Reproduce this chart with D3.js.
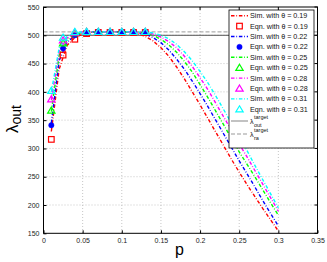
<!DOCTYPE html>
<html><head><meta charset="utf-8">
<script src="https://cdn.jsdelivr.net/npm/d3@7"></script>
<style>
html,body{margin:0;padding:0;background:#fff;}
svg{display:block;font-family:"Liberation Sans",Arial,Helvetica,sans-serif;}
</style></head>
<body>
<svg id="c" width="327" height="262"></svg>
<script>
const xTicks = [0,0.05,0.1,0.15,0.2,0.25,0.3,0.35];
const xTickLabels = ["0","0.05","0.1","0.15","0.2","0.25","0.3","0.35"];
const yTicks = [150,200,250,300,350,400,450,500,550];
const thetas = ["0.19","0.22","0.25","0.28","0.31"];
const colors = ["#ff0000","#0000ff","#00ff00","#ff00ff","#00ffff"];

const pSim = [0.01,0.02,0.03,0.04,0.05,0.06,0.07,0.08,0.09,0.10,0.11,0.12,0.13,0.14,0.15,0.16,0.17,0.18,0.19,0.20,0.21,0.22,0.23,0.24,0.25,0.26,0.27,0.28,0.29,0.30];
const sim019 = [330,440,482,496,502,505,506,506,506,506,505,503,498,490,478,463,444,423,400,377,353,329,305,281,258,236,215,194,174,154];
const sim022 = [345,455,488,499,504,506,506,506,506,506,506,505,502,496,487,474,458,440,419,397,374,350,326,302,278,255,232,208,185,163];
const sim025 = [365,465,492,502,505,506,506,506,506,506,506,506,504,500,493,483,470,454,435,413,390,366,342,318,294,272,250,227,204,182];
const sim028 = [385,472,495,504,506,506,506,506,506,506,506,506,505,502,497,489,478,463,445,425,404,380,356,332,308,285,261,237,213,189];
const sim031 = [400,478,498,505,506,506,506,506,506,506,506,506,506,504,500,494,484,471,455,436,416,393,369,345,320,296,270,245,220,195];

const pEqn = [0.01,0.025,0.04,0.055,0.07,0.085,0.1,0.115,0.13];
const eqn019 = [316,465,493,503,505,505,505,505,505];
const eqn022 = [341,477,500,505,506,506,506,506,506];
const eqn025 = [367,486,504,506,506,506,506,506,506];
const eqn028 = [387,491,505,506,506,506,506,506,506];
const eqn031 = [402,496,506,506,506,506,506,506,506];

const lambdaOutTarget = 500;
const lambdaRaTarget = 506;

const sims = [sim019,sim022,sim025,sim028,sim031];
const eqns = [eqn019,eqn022,eqn025,eqn028,eqn031];
const markerTypes = ["square","circle","triangle","triangle","triangle"];

const svg = d3.select("#c");
const L = 43.5, R = 317.5, T = 7, B = 233.3;
const x = d3.scaleLinear().domain([0,0.35]).range([L,R]);
const y = d3.scaleLinear().domain([150,550]).range([B,T]);

// grid
const grid = svg.append("g");
xTicks.slice(1,-1).forEach(t=>{
  grid.append("line").attr("x1",x(t)).attr("x2",x(t)).attr("y1",T).attr("y2",B)
   .attr("stroke","#b8b8b8").attr("stroke-width",0.8).attr("stroke-dasharray","1,2");
});
yTicks.slice(1,-1).forEach(t=>{
  grid.append("line").attr("x1",L).attr("x2",R).attr("y1",y(t)).attr("y2",y(t))
   .attr("stroke","#b8b8b8").attr("stroke-width",0.8).attr("stroke-dasharray","1,2");
});

// target lines
svg.append("line").attr("x1",L).attr("x2",R).attr("y1",y(lambdaOutTarget)).attr("y2",y(lambdaOutTarget))
  .attr("stroke","#555").attr("stroke-width",1);
svg.append("line").attr("x1",L).attr("x2",R).attr("y1",y(lambdaRaTarget)).attr("y2",y(lambdaRaTarget))
  .attr("stroke","#999").attr("stroke-width",1).attr("stroke-dasharray","4,2");

// sim lines
const line = d3.line().x((d,i)=>x(pSim[i])).y(d=>y(d));
sims.forEach((s,k)=>{
  svg.append("path").datum(s).attr("d",line).attr("fill","none")
    .attr("stroke",colors[k]).attr("stroke-width",1.4)
    .attr("stroke-dasharray","3.5,1.8,0.8,1.8");
});

function drawMarker(g, type, cx, cy, color, s){
  if(type==="square"){
    g.append("rect").attr("x",cx-s).attr("y",cy-s).attr("width",2*s).attr("height",2*s)
      .attr("fill","none").attr("stroke",color).attr("stroke-width",1.2);
  } else if(type==="circle"){
    g.append("circle").attr("cx",cx).attr("cy",cy).attr("r",s*0.95).attr("fill",color).attr("stroke",color).attr("stroke-width",0.5);
  } else {
    const h = s*1.25;
    g.append("path").attr("d",`M${cx},${cy-h}L${cx+h*1.05},${cy+h*0.75}L${cx-h*1.05},${cy+h*0.75}Z`)
      .attr("fill","none").attr("stroke",color).attr("stroke-width",1.2);
  }
}
const mg = svg.append("g");
eqns.forEach((e,k)=>{
  e.forEach((v,i)=>drawMarker(mg, markerTypes[k], x(pEqn[i]), y(v), colors[k], 2.8));
});

// axes box
svg.append("rect").attr("x",L).attr("y",T).attr("width",R-L).attr("height",B-T)
  .attr("fill","none").attr("stroke","#000").attr("stroke-width",1);

const xAxis = d3.axisBottom(x).tickValues(xTicks).tickFormat((d,i)=>xTickLabels[i]).tickSizeInner(-3).tickSizeOuter(0).tickPadding(5);
const gx = svg.append("g").attr("transform",`translate(0,${B})`).call(xAxis);
const yAxis = d3.axisLeft(y).tickValues(yTicks).tickFormat(d3.format("d")).tickSizeInner(-3).tickSizeOuter(0).tickPadding(4);
const gy = svg.append("g").attr("transform",`translate(${L},0)`).call(yAxis);
[gx,gy].forEach(g=>{
  g.select(".domain").remove();
  g.selectAll("text").attr("font-size","7px").attr("fill","#222").attr("font-family","Liberation Sans,Arial,sans-serif");
  g.selectAll("line").attr("stroke","#000");
});
// top/right ticks
xTicks.forEach(t=>svg.append("line").attr("x1",x(t)).attr("x2",x(t)).attr("y1",T).attr("y2",T+3).attr("stroke","#000"));
yTicks.forEach(t=>svg.append("line").attr("x1",R).attr("x2",R-3).attr("y1",y(t)).attr("y2",y(t)).attr("stroke","#000"));

// axis labels
svg.append("text").attr("x",(L+R)/2 - 1).attr("y",255).attr("text-anchor","middle")
  .attr("font-size","16px").text("p");
const yl = svg.append("text").attr("transform","translate(18,119) rotate(-90)").attr("text-anchor","middle")
  .attr("font-size","17px");
yl.append("tspan").text("λ");
yl.append("tspan").attr("font-size","14px").attr("dy",3).text("out");

// legend
const lg = svg.append("g");
const lx = 229, ly = 10, lw = 85, lh = 138;
lg.append("rect").attr("x",lx).attr("y",ly).attr("width",lw).attr("height",lh)
  .attr("fill","#fff").attr("stroke","#000").attr("stroke-width",0.8);
const rowY = i => 15.7 + i*10.4;
thetas.forEach((t,k)=>{
  const y1 = rowY(2*k), y2 = rowY(2*k+1);
  lg.append("line").attr("x1",lx+2).attr("x2",lx+19).attr("y1",y1).attr("y2",y1)
    .attr("stroke",colors[k]).attr("stroke-width",1.4).attr("stroke-dasharray","3.5,1.8,0.8,1.8");
  lg.append("text").attr("x",lx+21).attr("y",y1+2.5).attr("font-size","7.2px").attr("fill","#111")
    .text(`Sim. with θ = ${t}`);
  drawMarker(lg, markerTypes[k], lx+10.5, y2, colors[k], 2.8);
  lg.append("text").attr("x",lx+21).attr("y",y2+2.5).attr("font-size","7.2px").attr("fill","#111")
    .text(`Eqn. with θ = ${t}`);
});
// target entries
const yo = 121, yr = 134;
lg.append("line").attr("x1",lx+2).attr("x2",lx+19).attr("y1",yo).attr("y2",yo).attr("stroke","#999").attr("stroke-width",1.2);
lg.append("line").attr("x1",lx+2).attr("x2",lx+19).attr("y1",yr).attr("y2",yr).attr("stroke","#999").attr("stroke-width",1.2).attr("stroke-dasharray","4,2");
function lamLabel(yc, sub){
  const t = lg.append("text").attr("x",lx+21).attr("y",yc+2.5).attr("font-size","7.2px").attr("fill","#111");
  t.append("tspan").text("λ");
  lg.append("text").attr("x",lx+25).attr("y",yc-2.5).attr("font-size","5.5px").attr("fill","#111").text("target");
  lg.append("text").attr("x",lx+25).attr("y",yc+5.5).attr("font-size","5.5px").attr("fill","#111").text(sub);
}
lamLabel(yo,"out");
lamLabel(yr,"ra");
</script>
</body></html>
